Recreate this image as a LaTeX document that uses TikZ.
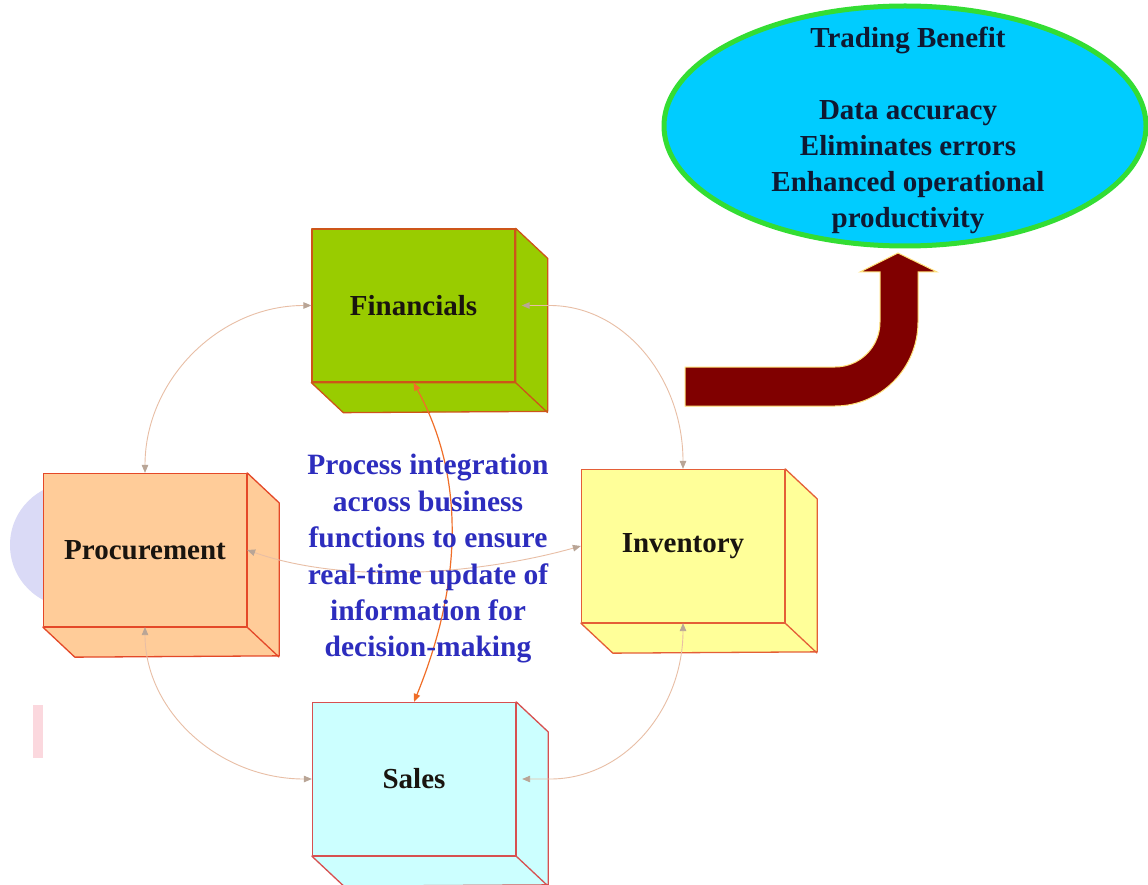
\documentclass[tikz,border=0pt]{standalone}
\usepackage{fontspec}
\setmainfont{Liberation Serif}
\usetikzlibrary{arrows.meta,shapes.geometric,calc}
\definecolor{fincol}{RGB}{153,204,0}
\definecolor{proccol}{RGB}{255,204,153}
\definecolor{invcol}{RGB}{255,255,153}
\definecolor{salescol}{RGB}{204,255,255}
\definecolor{finline}{RGB}{205,85,25}
\definecolor{procline}{RGB}{228,72,40}
\definecolor{invline}{RGB}{228,95,55}
\definecolor{salesline}{RGB}{215,80,80}
\definecolor{linkcol}{RGB}{232,190,165}
\definecolor{tipcol}{RGB}{185,165,150}
\definecolor{orangelink}{RGB}{240,110,40}
\definecolor{bluetxt}{RGB}{45,45,190}
\definecolor{labeltxt}{RGB}{25,20,15}
\definecolor{ellfill}{RGB}{0,204,255}
\definecolor{ellline}{RGB}{51,221,51}
\definecolor{elltxt}{RGB}{15,25,50}
\definecolor{arrowfill}{RGB}{128,0,0}
\definecolor{arrowedge}{RGB}{255,225,120}
\definecolor{lavender}{RGB}{218,218,246}
\definecolor{pinkmark}{RGB}{251,216,222}
\newcommand\cubesides[3]{%
  \filldraw[cubeface, draw=#3, fill=#2] (#1.north east) -- ++(32,30) -- ++(0,153)
    -- ($(#1.south west)+(32,30)$) -- (#1.south west) -- (#1.south east) -- cycle;
  \draw[cubeface, draw=#3] (#1.south east) -- ++(32,30);
}
\tikzset{
  cubeface/.style={line width=1.3pt, line join=round},
  front/.style={cubeface, rectangle, minimum width=203pt, minimum height=153pt, inner sep=0pt,
    font=\fontsize{29}{34}\selectfont\bfseries, text=labeltxt},
  link/.style={draw=linkcol, line width=0.9pt, <->,
    >={Triangle[length=8pt,width=6.5pt,color=tipcol]}},
  orangeline/.style={draw=orangelink, line width=1.2pt, <->,
    >={Triangle[length=8pt,width=6.5pt,color=orangelink]}},
  bigarrow/.style={fill=arrowfill, draw=arrowedge, line width=1pt, line join=miter},
  ellipsebox/.style={ellipse, draw=ellline, fill=ellfill, line width=5pt,
    minimum width=482pt, minimum height=240pt, inner sep=0pt},
  midtext/.style={font=\fontsize{29.5}{36.4}\selectfont\bfseries, text=bluetxt, align=center},
  elltext/.style={font=\fontsize{29}{36}\selectfont\bfseries, text=elltxt, align=center}
}
\begin{document}
\begin{tikzpicture}[x=1pt,y=-1pt]
\useasboundingbox (0,0) rectangle (1148,885);
\fill[white] (0,0) rectangle (1148,885);
% faint background marks
\fill[lavender] (72,545) circle (62);
\fill[pinkmark] (33,705) rectangle (43,758);
% cubes
\node[front, draw=finline, fill=fincol] (fin) at (413.5,305.5) {Financials};
\cubesides{fin}{fincol}{finline}
\node[front, draw=procline, fill=proccol] (proc) at (145,550) {Procurement};
\cubesides{proc}{proccol}{procline}
\node[front, draw=invline, fill=invcol] (inv) at (683,546) {Inventory};
\cubesides{inv}{invcol}{invline}
\node[front, draw=salesline, fill=salescol] (sales) at (414,779) {Sales};
\cubesides{sales}{salescol}{salesline}
% connectors
\draw[link] (proc.north) .. controls +(0,-93) and +(-92,0) .. (fin.west);
\coordinate (finside) at ($(fin.east)+(34,0)$);
\coordinate (fintip) at ($(fin.east)+(6,0)$);
\draw[link] (inv.north) .. controls +(0,-91) and +(74,0) .. (finside) -- (fintip);
\draw[link] (proc.south) .. controls +(0,84) and +(-93,0) .. (sales.west);
\coordinate (salesside) at ($(sales.east)+(34,0)$);
\coordinate (salestip) at ($(sales.east)+(6,0)$);
\draw[link] (inv.south) .. controls +(0,86) and +(74,0) .. (salesside) -- (salestip);
\draw[link] (proc.east) .. controls +(100,35) and +(-100,28) .. (inv.west);
\draw[orangeline] (fin.south) .. controls +(55,100) and +(45,-110) .. (sales.north);
% centre text
\node[midtext] (mid) at (428,559) {Process integration\\across business\\functions to ensure\\real-time update of\\information for\\decision-making};
% benefit ellipse
\node[ellipsebox] (ben) at (905,126) {};
\node[elltext] (bentext) at (908,130) {Trading Benefit\\[36pt]Data accuracy\\Eliminates errors\\Enhanced operational\\productivity};
% big curved arrow
\filldraw[bigarrow] (685,367) -- (835,367) .. controls (860,367) and (880,347) .. (880,322)
  -- (880,272) -- (860,272) -- (898,253) -- (937,272) -- (918,272) -- (918,322)
  .. controls (918,368) and (881,406) .. (835,406) -- (685,406) -- cycle;
\end{tikzpicture}
\end{document}
